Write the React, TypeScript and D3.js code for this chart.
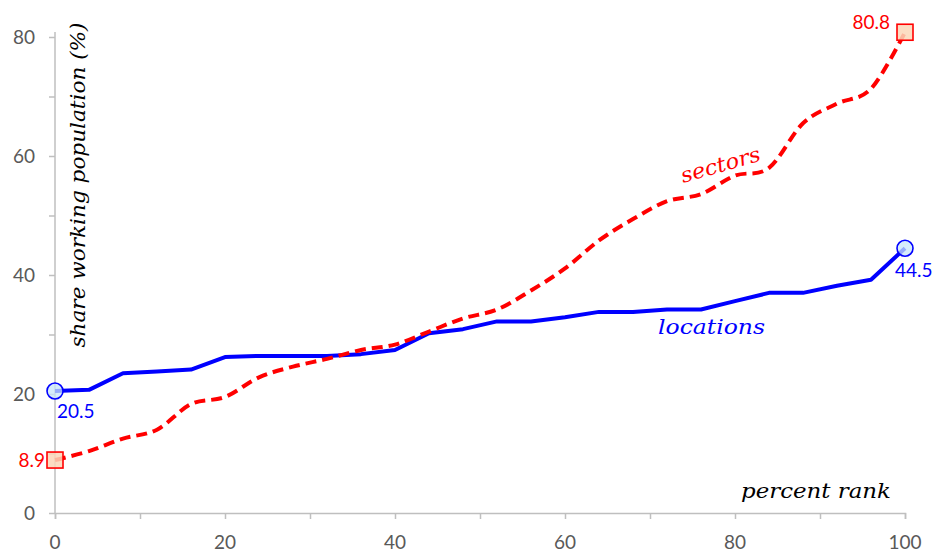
import React, { useEffect, useRef } from 'react';
import * as d3 from 'd3';

// percent rank steps shared by both series
const ranks = [0, 4, 8, 12, 16, 20, 24, 28, 32, 36, 40, 44, 48, 52, 56, 60, 64, 68, 72, 76, 80, 84, 88, 92, 96, 100];

const locations = [20.5, 20.7, 23.5, 23.8, 24.1, 26.2, 26.4, 26.4, 26.4, 26.7, 27.4, 30.2, 30.9, 32.2, 32.2, 32.9, 33.8, 33.8, 34.2, 34.2, 35.6, 37.0, 37.0, 38.2, 39.2, 44.5];

const sectors = [8.9, 10.4, 12.5, 14.0, 18.3, 19.5, 22.8, 24.6, 25.9, 27.4, 28.3, 30.5, 32.7, 34.2, 37.4, 41.1, 45.8, 49.4, 52.4, 53.6, 56.7, 58.0, 65.5, 68.8, 71.3, 80.8];

const xTicks = [0, 20, 40, 60, 80, 100];
const yTicks = [0, 20, 40, 60, 80];

const serif = '"DejaVu Serif", serif';
const sans = 'Lato, "Noto Sans", sans-serif';

const App: React.FC = () => {
  const ref = useRef<SVGSVGElement | null>(null);

  useEffect(() => {
    if (!ref.current) return;
    const width = 935;
    const height = 554;

    const svg = d3.select(ref.current)
      .attr('width', width)
      .attr('height', height);
    svg.selectAll('*').remove();

    const x = d3.scaleLinear().domain([0, 100]).range([55, 905]);
    const y = d3.scaleLinear().domain([0, 80]).range([513, 37]);

    const axisColor = '#bfbfbf';
    const tickColor = '#595959';

    // x axis
    const xAxis = svg.append('g')
      .attr('transform', `translate(0,${y(0)})`)
      .call(d3.axisBottom(x).tickValues(d3.range(0, 101, 10)).tickSize(6).tickFormat(() => ''));
    xAxis.select('.domain').attr('stroke', axisColor).attr('stroke-width', 1.5);
    xAxis.selectAll('.tick line').attr('stroke', axisColor).attr('stroke-width', 1.5);

    svg.append('g').selectAll('text')
      .data(xTicks)
      .enter().append('text')
      .attr('x', d => x(d))
      .attr('y', 549)
      .attr('text-anchor', 'middle')
      .attr('fill', tickColor)
      .style('font-family', sans)
      .style('font-size', '19px')
      .text(d => d);

    // y axis
    const yAxis = svg.append('g')
      .attr('transform', `translate(${x(0)},0)`)
      .call(d3.axisLeft(y).tickValues(d3.range(0, 81, 10)).tickSize(6).tickFormat(() => ''));
    yAxis.select('.domain').attr('stroke', axisColor).attr('stroke-width', 1.5)
      .attr('d', `M0,${y(0)}V${y(80) - 5}`);
    yAxis.selectAll('.tick line').attr('stroke', axisColor).attr('stroke-width', 1.5);

    svg.append('g').selectAll('text')
      .data(yTicks)
      .enter().append('text')
      .attr('x', 35)
      .attr('y', d => y(d))
      .attr('dy', '0.36em')
      .attr('text-anchor', 'end')
      .attr('fill', tickColor)
      .style('font-family', sans)
      .style('font-size', '19px')
      .text(d => d);

    // lines
    const locData = ranks.map((r, i) => [r, locations[i]] as [number, number]);
    const secData = ranks.map((r, i) => [r, sectors[i]] as [number, number]);

    const straight = d3.line<[number, number]>().x(d => x(d[0])).y(d => y(d[1]));
    const smooth = d3.line<[number, number]>().x(d => x(d[0])).y(d => y(d[1]))
      .curve(d3.curveCardinal.tension(0));

    svg.append('path')
      .attr('d', straight(locData))
      .attr('fill', 'none')
      .attr('stroke', '#0000ff')
      .attr('stroke-width', 4)
      .attr('stroke-linejoin', 'round');

    svg.append('path')
      .attr('d', smooth(secData))
      .attr('fill', 'none')
      .attr('stroke', '#ff0000')
      .attr('stroke-width', 4)
      .attr('stroke-dasharray', '11,6');

    // end markers
    const locEnds = [locData[0], locData[locData.length - 1]];
    const secEnds = [secData[0], secData[secData.length - 1]];

    svg.append('g').selectAll('circle')
      .data(locEnds)
      .enter().append('circle')
      .attr('cx', d => x(d[0]))
      .attr('cy', d => y(d[1]))
      .attr('r', 8)
      .attr('fill', 'rgba(200,230,250,0.75)')
      .attr('stroke', '#0000ff')
      .attr('stroke-width', 1.6);

    svg.append('g').selectAll('rect')
      .data(secEnds)
      .enter().append('rect')
      .attr('x', d => x(d[0]) - 8)
      .attr('y', d => y(d[1]) - 8)
      .attr('width', 16)
      .attr('height', 16)
      .attr('fill', 'rgba(252,215,185,0.85)')
      .attr('stroke', '#ff0000')
      .attr('stroke-width', 1.6);

    // value labels
    const labelStyle = (sel: d3.Selection<SVGTextElement, unknown, null, undefined>) =>
      sel.style('font-family', sans).style('font-size', '19px');

    labelStyle(svg.append('text')
      .attr('x', x(0) + 2)
      .attr('y', y(locations[0]) + 27)
      .attr('fill', '#0000ff')
      .text(locations[0].toFixed(1)));

    labelStyle(svg.append('text')
      .attr('x', x(100) - 10)
      .attr('y', y(locations[locations.length - 1]) + 29)
      .attr('fill', '#0000ff')
      .text(locations[locations.length - 1].toFixed(1)));

    labelStyle(svg.append('text')
      .attr('x', x(100) - 15)
      .attr('y', y(sectors[sectors.length - 1]) - 3)
      .attr('text-anchor', 'end')
      .attr('fill', '#ff0000')
      .text(sectors[sectors.length - 1].toFixed(1)));

    labelStyle(svg.append('text')
      .attr('x', x(0) - 10)
      .attr('y', y(sectors[0]) + 7)
      .attr('text-anchor', 'end')
      .attr('fill', '#ff0000')
      .text(sectors[0].toFixed(1)));

    // series names and axis titles
    svg.append('text')
      .attr('x', 658)
      .attr('y', 334)
      .attr('textLength', 107)
      .attr('lengthAdjust', 'spacingAndGlyphs')
      .attr('fill', '#0000ff')
      .style('font-family', serif)
      .style('font-style', 'italic')
      .style('font-size', '20px')
      .text('locations');

    svg.append('text')
      .attr('transform', 'translate(683,183) rotate(-16)')
      .attr('textLength', 82)
      .attr('lengthAdjust', 'spacingAndGlyphs')
      .attr('fill', '#ff0000')
      .style('font-family', serif)
      .style('font-style', 'italic')
      .style('font-size', '21px')
      .text('sectors');

    svg.append('text')
      .attr('x', 741)
      .attr('y', 498)
      .attr('textLength', 150)
      .attr('lengthAdjust', 'spacingAndGlyphs')
      .attr('fill', '#000')
      .style('font-family', serif)
      .style('font-style', 'italic')
      .style('font-size', '20px')
      .text('percent rank');

    svg.append('text')
      .attr('transform', 'translate(85,185) rotate(-90)')
      .attr('text-anchor', 'middle')
      .attr('textLength', 325)
      .attr('lengthAdjust', 'spacingAndGlyphs')
      .attr('fill', '#000')
      .style('font-family', serif)
      .style('font-style', 'italic')
      .style('font-size', '20px')
      .text('share working population (%)');
  }, []);

  return <svg ref={ref} style={{ position: 'absolute', left: 0, top: 0, background: '#fff' }}></svg>;
};

export default App;
